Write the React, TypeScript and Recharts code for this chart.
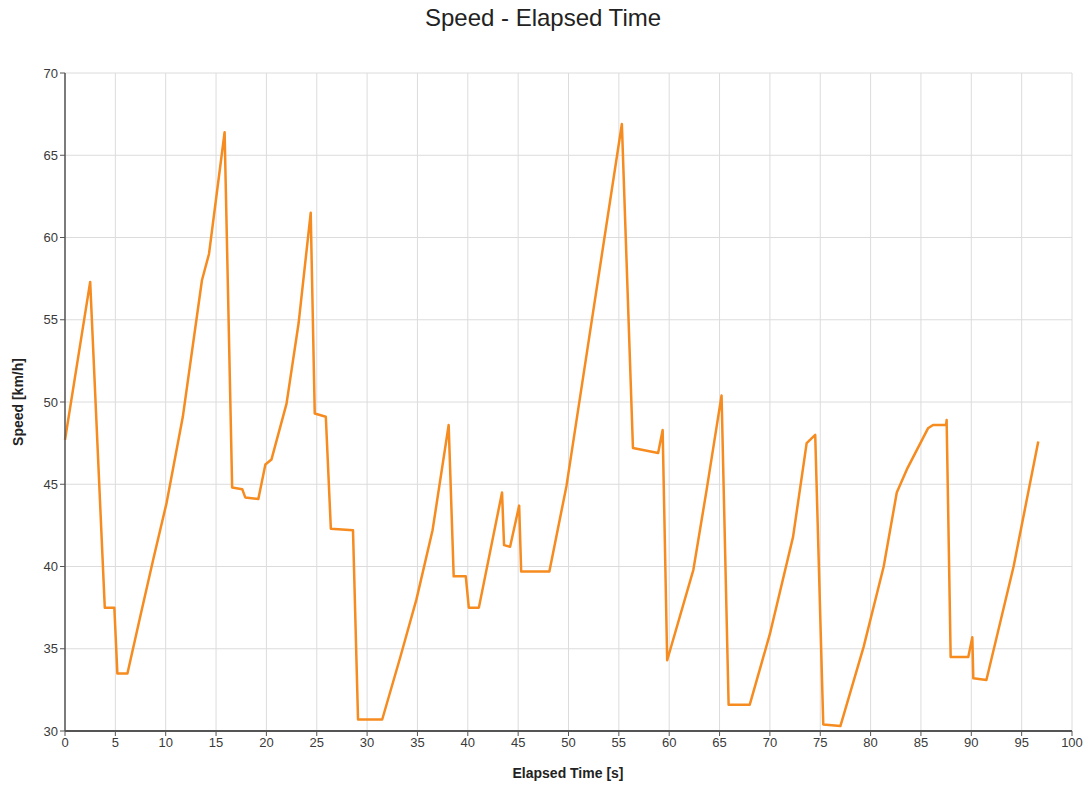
import React from "react";
import { LineChart, Line, XAxis, YAxis, CartesianGrid } from "recharts";

// elapsed time [s] and speed [km/h] samples
const elapsed = [
  0, 2.5, 3.95, 4.9, 5.2, 6.2, 7.45, 8.75, 10.1, 11.7, 13.6, 14.3, 15.85, 16.6, 17.6, 17.9,
  19.2, 19.9, 20.5, 22.0, 23.2, 24.4, 24.8, 25.9, 26.4, 28.6, 29.1, 31.5, 33.3, 34.9, 36.5,
  38.1, 38.6, 39.8, 40.1, 41.1, 43.4, 43.6, 44.2, 45.1, 45.3, 48.1, 49.8, 52.0, 55.3, 56.4,
  58.9, 59.35, 59.8, 62.4, 63.7, 65.2, 65.9, 68.0, 70.0, 72.3, 73.65, 74.5, 75.3, 77.0, 79.3,
  81.3, 82.6, 83.6, 85.7, 86.2, 87.5, 87.55, 87.95, 89.7, 90.1, 90.2, 91.5, 94.2, 96.65,
];
const speed = [
  47.7, 57.3, 37.5, 37.5, 33.5, 33.5, 36.9, 40.4, 43.9, 49.1, 57.4, 59.0, 66.4, 44.8, 44.7, 44.2,
  44.1, 46.2, 46.5, 49.9, 54.8, 61.5, 49.3, 49.1, 42.3, 42.2, 30.7, 30.7, 34.5, 38.0, 42.2,
  48.6, 39.4, 39.4, 37.5, 37.5, 44.5, 41.3, 41.2, 43.7, 39.7, 39.7, 44.9, 53.7, 66.9, 47.2,
  46.9, 48.3, 34.3, 39.8, 44.6, 50.4, 31.6, 31.6, 35.9, 41.8, 47.5, 48.0, 30.4, 30.3, 35.1,
  40.0, 44.5, 45.9, 48.4, 48.6, 48.6, 48.9, 34.5, 34.5, 35.7, 33.2, 33.1, 40.0, 47.6,
];
const xTicks = [0, 5, 10, 15, 20, 25, 30, 35, 40, 45, 50, 55, 60, 65, 70, 75, 80, 85, 90, 95, 100];
const yTicks = [30, 35, 40, 45, 50, 55, 60, 65, 70];

const data = elapsed.map((t, i) => ({ t, v: speed[i] }));

const FONT = "'Liberation Sans', Arial, sans-serif";
const tick = { fill: "#3a3a3a", fontSize: 13, fontFamily: FONT };
const axisLine = { stroke: "#555", strokeWidth: 1.5 };

export default function App() {
  return (
    <div style={{ position: "absolute", left: 0, top: 0, width: 1086, height: 786, background: "#fff", fontFamily: FONT }}>
      <div style={{ position: "absolute", top: 4, left: 0, width: 1086, textAlign: "center", fontSize: 24, color: "#222" }}>
        Speed - Elapsed Time
      </div>
      <div
        style={{
          position: "absolute", left: 18, top: 402, fontSize: 14, fontWeight: "bold", color: "#222",
          transform: "translate(-50%, -50%) rotate(-90deg)", whiteSpace: "nowrap",
        }}
      >
        Speed [km/h]
      </div>
      <div style={{ position: "absolute", top: 765, left: 568, transform: "translateX(-50%)", fontSize: 14, fontWeight: "bold", color: "#222", whiteSpace: "nowrap" }}>
        Elapsed Time [s]
      </div>
      <LineChart width={1086} height={786} data={data} margin={{ top: 73, right: 14, bottom: 30, left: 15 }}>
        <CartesianGrid stroke="#dcdcdc" strokeWidth={1} />
        <XAxis
          dataKey="t" type="number" domain={[0, 100]} ticks={xTicks} interval={0}
          tick={tick} tickSize={5} axisLine={{ stroke: "#555", strokeWidth: 2 }} tickLine={{ stroke: "#555" }} height={25}
        />
        <YAxis
          type="number" domain={[30, 70]} ticks={yTicks} interval={0}
          tick={tick} tickSize={5} axisLine={axisLine} tickLine={{ stroke: "#555" }} width={50}
        />
        <Line
          dataKey="v" type="linear" stroke="#F68B1F" strokeWidth={2.5} dot={false}
          strokeLinejoin="round" isAnimationActive={false}
        />
      </LineChart>
    </div>
  );
}
